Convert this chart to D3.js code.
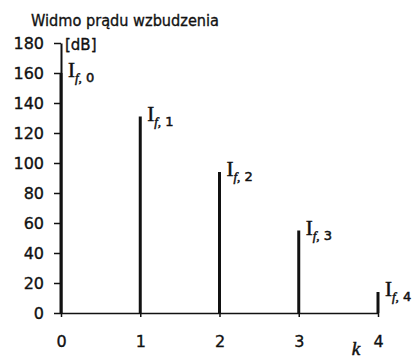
<!DOCTYPE html>
<html>
<head>
<meta charset="utf-8">
<title>Widmo prądu wzbudzenia</title>
<style>
body { margin: 0; background: #fff; }
text { fill: #111; font-family: "DejaVu Sans", sans-serif; stroke: #111; stroke-width: 0.35px; }
.axis path, .axis line { stroke: #111; }
.lbl { font-family: "Liberation Serif", "DejaVu Serif", serif; stroke-width: 0.5px; }
</style>
</head>
<body>
<script src="https://cdn.jsdelivr.net/npm/d3@7"></script>
<script>

// harmonic number k and spectrum amplitude [dB]
var harmonics = [0, 1, 2, 3, 4];
var amplitudes = [160, 131, 94, 55, 14];
var yTicks = [0, 20, 40, 60, 80, 100, 120, 140, 160, 180];
var xTicks = [0, 1, 2, 3, 4];
var title = "Widmo prądu wzbudzenia";

var width = 414,
    height = 358;

var x = d3.scaleLinear().domain([0, 4]).range([61, 378]);
var y = d3.scaleLinear().domain([0, 180]).range([313, 43]);

var svg = d3.select("body").append("svg")
    .attr("width", width)
    .attr("height", height);

// title
svg.append("text")
    .attr("x", 31)
    .attr("y", 26)
    .attr("font-family", "'DejaVu Sans Condensed', 'DejaVu Sans', sans-serif")
    .attr("font-size", 16)
    .attr("textLength", 188)
    .attr("lengthAdjust", "spacingAndGlyphs")
    .text(title);

// y axis
var yAxis = svg.append("g")
    .attr("class", "axis")
    .attr("transform", "translate(" + x(0) + ",0)")
    .call(d3.axisLeft(y).tickValues(yTicks).tickSize(7).tickSizeOuter(0).tickPadding(10));
yAxis.select(".domain").attr("stroke-width", 2);
yAxis.selectAll(".tick line").attr("stroke-width", 1.5);
yAxis.selectAll("text")
    .attr("font-size", 16)
    .attr("font-family", "'DejaVu Sans', sans-serif")
    .attr("fill", "#111");

svg.append("text")
    .attr("x", 65)
    .attr("y", 50)
    .attr("font-size", 15)
    .text("[dB]");

// x axis
var xAxis = svg.append("g")
    .attr("class", "axis")
    .attr("transform", "translate(0," + y(0) + ")")
    .call(d3.axisBottom(x).tickValues(xTicks).tickFormat(d3.format("d")).tickSize(4).tickSizeOuter(0));
xAxis.select(".domain").attr("stroke-width", 1.5);
xAxis.selectAll(".tick line").attr("stroke-width", 1.5);
xAxis.selectAll("text")
    .attr("y", 34)
    .attr("dy", 0)
    .attr("font-size", 16)
    .attr("font-family", "'DejaVu Sans', sans-serif")
    .attr("fill", "#111");

svg.append("text")
    .attr("class", "lbl")
    .attr("x", 356)
    .attr("y", 355)
    .attr("text-anchor", "middle")
    .attr("font-style", "italic")
    .attr("font-size", 19)
    .text("k");

// spectral lines
svg.append("g")
    .selectAll("line")
    .data(harmonics)
    .enter().append("line")
    .attr("x1", function(d) { return x(d); })
    .attr("x2", function(d) { return x(d); })
    .attr("y1", y(0))
    .attr("y2", function(d, i) { return y(amplitudes[i]); })
    .attr("stroke", "#111")
    .attr("stroke-width", 3);

// labels I_f,k
var lbl = svg.append("g")
    .selectAll("text")
    .data(harmonics)
    .enter().append("text")
    .attr("class", "lbl")
    .attr("x", function(d) { return x(d) + 7; })
    .attr("y", function(d, i) { return y(amplitudes[i]) + 4; })
    .attr("font-size", 21);

lbl.append("tspan").text("I");
lbl.append("tspan")
    .attr("dy", 5)
    .attr("font-size", 13)
    .attr("font-style", "italic")
    .text("f,");
lbl.append("tspan")
    .attr("dx", 4)
    .attr("font-size", 13)
    .attr("font-family", "'DejaVu Sans', sans-serif")
    .text(function(d) { return d; });

</script>
</body>
</html>
